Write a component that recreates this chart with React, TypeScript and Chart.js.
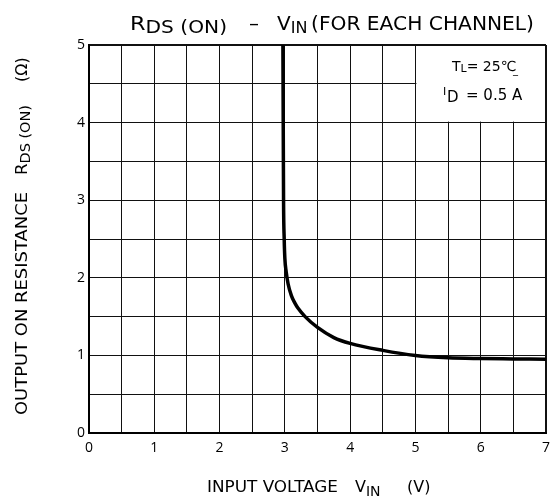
import React, { useEffect, useRef } from "react";
import { Chart, registerables } from "chart.js";
Chart.register(...registerables);

const vin = [2.97, 2.975, 2.98, 2.99, 3.0, 3.02, 3.05, 3.1, 3.15, 3.2, 3.31, 3.5, 3.75, 4.0, 4.5, 5.0, 5.5, 6.0, 6.5, 7.0];
const rds = [5.0, 4.0, 3.0, 2.5, 2.25, 2.08, 1.92, 1.77, 1.68, 1.61, 1.5, 1.36, 1.23, 1.155, 1.065, 1.0, 0.97, 0.96, 0.955, 0.95];
const xTickLabels = ["0", "1", "2", "3", "4", "5", "6", "7"];
const yTickLabels = ["0", "1", "2", "3", "4", "5"];
const FONT = "'DejaVu Sans', 'Open Sans', sans-serif";
const TICKFONT = "'Open Sans', 'DejaVu Sans', sans-serif";

type Run = { t: string; s: number; dy?: number };

function drawRuns(ctx: any, x: number, y: number, runs: Run[], target?: number) {
  let natural = 0;
  for (const r of runs) {
    ctx.font = `${r.s}px ${FONT}`;
    natural += ctx.measureText(r.t).width;
  }
  const k = target ? target / natural : 1;
  ctx.save();
  ctx.translate(x, y);
  ctx.scale(k, 1);
  let px = 0;
  for (const r of runs) {
    ctx.font = `${r.s}px ${FONT}`;
    ctx.fillText(r.t, px, r.dy || 0);
    px += ctx.measureText(r.t).width;
  }
  ctx.restore();
}

const textPlugin = {
  id: "texts",
  beforeDatasetsDraw(chart: any) {
    const { ctx, scales } = chart;
    const xs = scales.x, ys = scales.y;
    const x0 = xs.getPixelForValue(5) + 1;
    const x1 = xs.getPixelForValue(7) - 1;
    const y0 = ys.getPixelForValue(5) + 1;
    const y1 = ys.getPixelForValue(4) - 1;
    ctx.save();
    ctx.fillStyle = "#fff";
    ctx.fillRect(x0, y0, x1 - x0, y1 - y0);
    ctx.restore();
  },
  afterDraw(chart: any) {
    const { ctx } = chart;
    ctx.save();
    ctx.fillStyle = "#000";
    ctx.textAlign = "left";
    ctx.textBaseline = "alphabetic";
    // title
    drawRuns(ctx, 130, 30, [{ t: "R", s: 20 }, { t: "DS (ON)", s: 18, dy: 3 }], 97);
    drawRuns(ctx, 249, 30, [{ t: "\u2013", s: 20 }]);
    drawRuns(ctx, 277, 30, [{ t: "V", s: 20 }, { t: "IN", s: 16, dy: 3 }]);
    drawRuns(ctx, 311, 30, [{ t: "(FOR EACH CHANNEL)", s: 20 }], 223);
    // x label
    drawRuns(ctx, 207, 492, [{ t: "INPUT VOLTAGE", s: 16 }], 131);
    drawRuns(ctx, 355, 492, [{ t: "V", s: 16 }, { t: "IN", s: 14, dy: 4 }]);
    drawRuns(ctx, 407, 492, [{ t: "(V)", s: 16 }]);
    // y label
    ctx.translate(27, 415);
    ctx.rotate(-Math.PI / 2);
    drawRuns(ctx, 0, 0, [{ t: "OUTPUT ON RESISTANCE", s: 16 }], 223);
    drawRuns(ctx, 240, 0, [{ t: "R", s: 16 }, { t: "DS (ON)", s: 14, dy: 3 }], 70);
    drawRuns(ctx, 333, 0, [{ t: "(\u03A9)", s: 16 }]);
    ctx.restore();
    // annotation
    ctx.save();
    ctx.fillStyle = "#000";
    drawRuns(ctx, 452, 71, [
      { t: "T", s: 14 },
      { t: "L", s: 11, dy: 1 },
      { t: "= 25\u2103", s: 14 },
    ]);
    drawRuns(ctx, 513, 73, [{ t: "_", s: 10 }]);
    drawRuns(ctx, 443, 95, [{ t: "I", s: 11 }]);
    drawRuns(ctx, 447, 102, [{ t: "D", s: 15 }]);
    drawRuns(ctx, 466, 100, [{ t: "= 0.5 A", s: 15 }]);
    ctx.restore();
  },
};

export default function App() {
  const ref = useRef<HTMLCanvasElement>(null);
  useEffect(() => {
    if (!ref.current) return;
    const gridW = (min: number, max: number) => (c: any) =>
      c.tick && (c.tick.value === min || c.tick.value === max) ? 2 : 1;
    const chart = new Chart(ref.current, {
      type: "line",
      data: {
        datasets: [
          {
            data: vin.map((v, i) => ({ x: v, y: rds[i] })),
            borderColor: "#000",
            borderWidth: 3.5,
            pointRadius: 0,
            cubicInterpolationMode: "monotone",
            fill: false,
          },
        ],
      },
      options: {
        animation: false,
        responsive: false,
        maintainAspectRatio: false,
        layout: { padding: { top: 45, right: 0, left: 0, bottom: 0 } },
        plugins: { legend: { display: false }, tooltip: { enabled: false }, title: { display: false } },
        scales: {
          x: {
            type: "linear",
            min: 0,
            max: 7,
            afterFit: (s: any) => { s.height = 66; s.paddingRight = 5; },
            ticks: {
              stepSize: 0.5,
              autoSkip: false,
              maxRotation: 0,
              padding: 7,
              color: "#000",
              font: { family: TICKFONT, size: 14 },
              callback: (v: any) => (Number.isInteger(v) ? xTickLabels[v] : ""),
            },
            grid: { color: "#111", lineWidth: gridW(0, 7), drawTicks: false },
            border: { display: true, color: "#000", width: 2 },
          },
          y: {
            min: 0,
            max: 5,
            afterFit: (s: any) => { s.width = 89; },
            ticks: {
              stepSize: 0.5,
              autoSkip: false,
              padding: 4,
              color: "#000",
              font: { family: TICKFONT, size: 14 },
              callback: (v: any) => (Number.isInteger(v) ? yTickLabels[v] : ""),
            },
            grid: { color: "#111", lineWidth: gridW(0, 5), drawTicks: false },
            border: { display: true, color: "#000", width: 2 },
          },
        },
      },
      plugins: [textPlugin],
    } as any);
    return () => chart.destroy();
  }, []);
  return (
    <div style={{ position: "absolute", left: 0, top: 0, width: 551, height: 499, background: "#fff" }}>
      <canvas ref={ref} width={551} height={499} style={{ width: 551, height: 499 }} />
    </div>
  );
}
